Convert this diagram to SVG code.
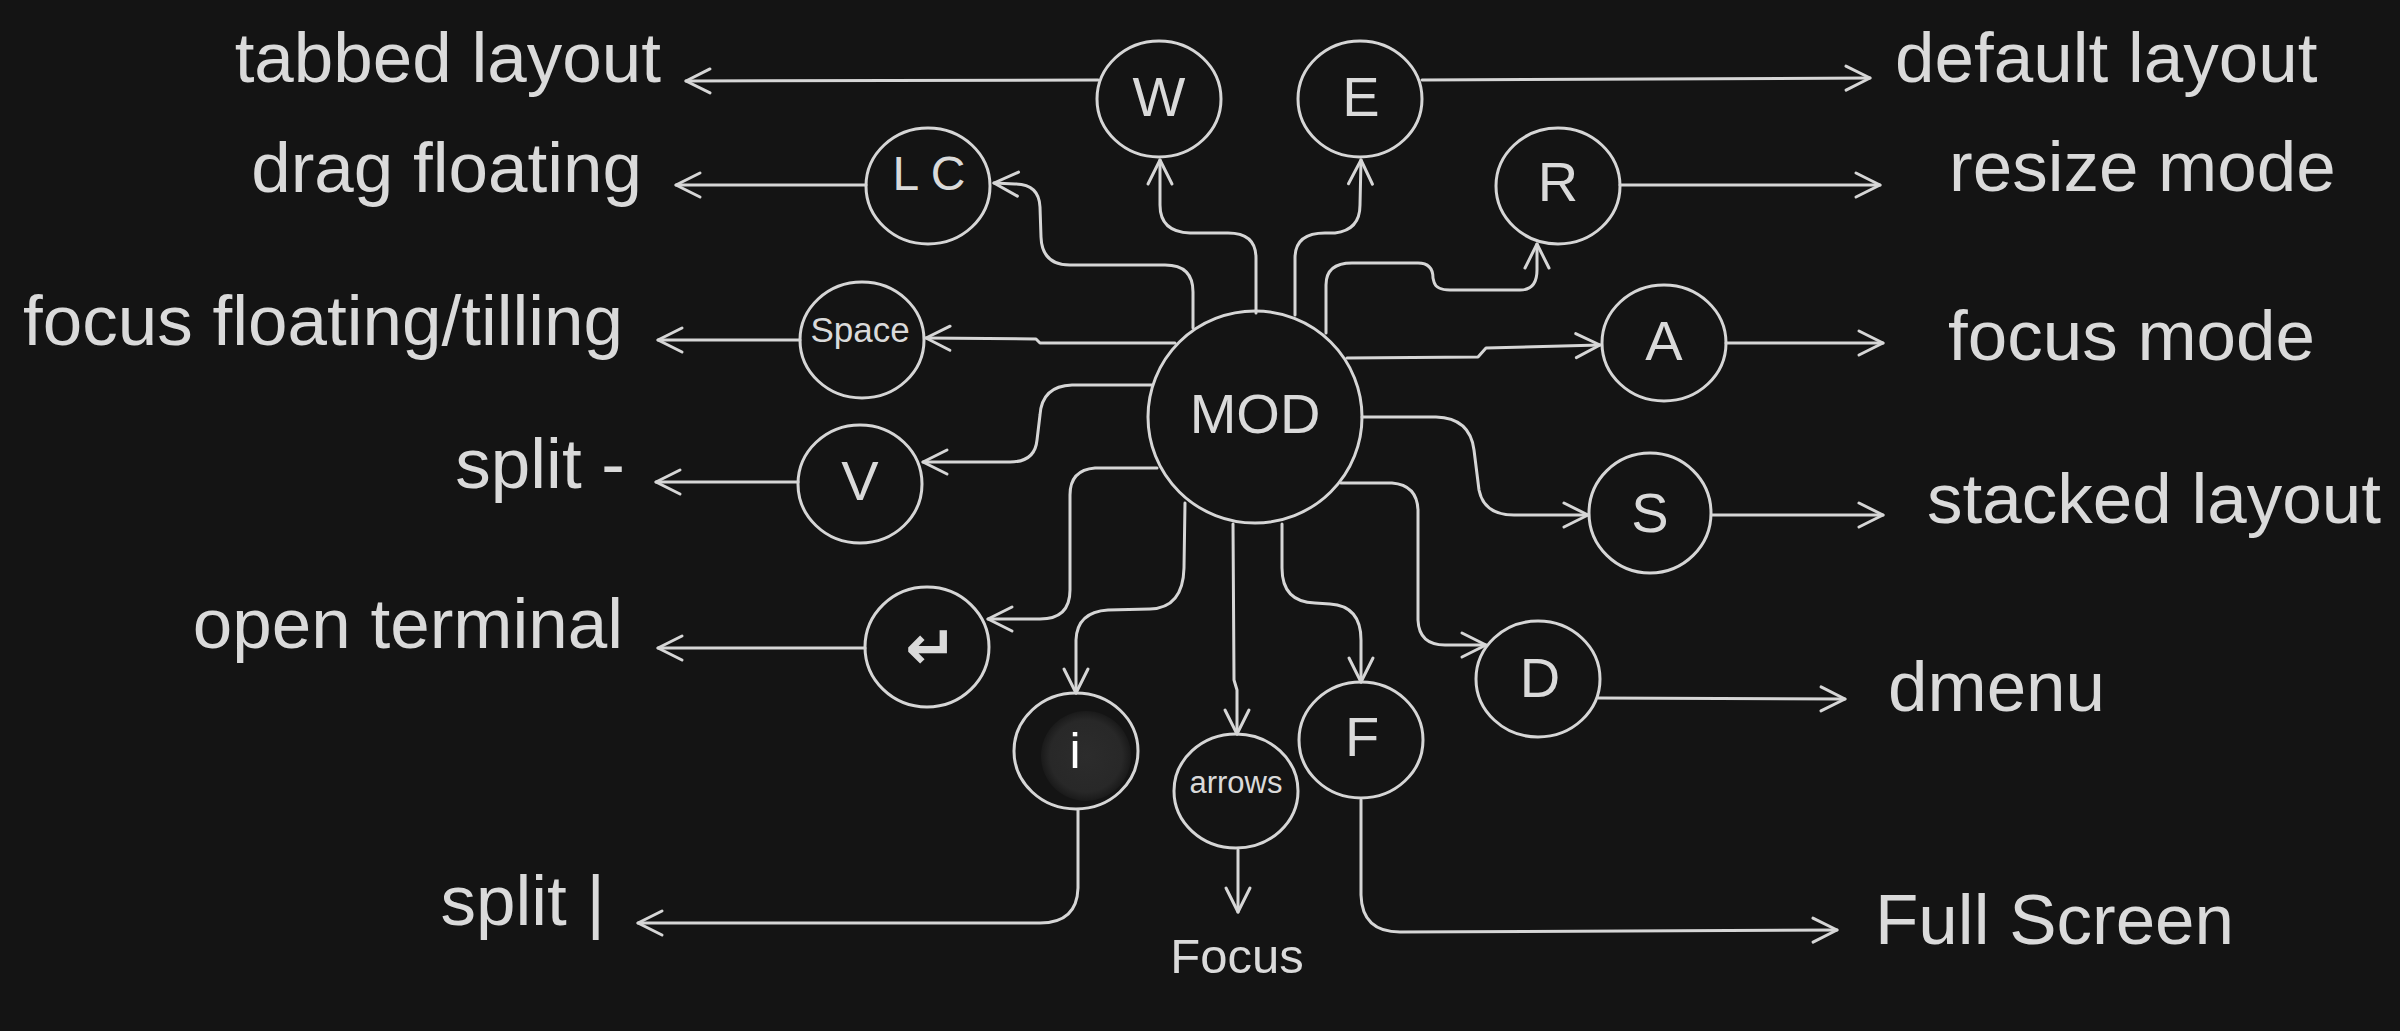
<svg xmlns="http://www.w3.org/2000/svg" width="2400" height="1031" viewBox="0 0 2400 1031">
<defs>
<marker id="ah" markerUnits="userSpaceOnUse" markerWidth="40" markerHeight="40" viewBox="-30 -20 40 40" refX="0" refY="0" orient="auto">
<path d="M -24 -12 L 0 0 L -24 12" fill="none" stroke="#d6d6d6" stroke-width="3" stroke-linecap="round" stroke-linejoin="round"/>
</marker>
<radialGradient id="ig" cx="0.5" cy="0.5" r="0.5">
<stop offset="0" stop-color="#2c2c2c"/>
<stop offset="0.8" stop-color="#282828"/>
<stop offset="1" stop-color="#1a1a1a"/>
</radialGradient>
<style>
.node ellipse{fill:none;stroke:#d6d6d6;stroke-width:3}
.lbl{font-family:"Liberation Sans",Arial,sans-serif;fill:#dadada;font-size:71px}
.nt{font-family:"Liberation Sans",Arial,sans-serif;fill:#dadada;font-size:56px;text-anchor:middle}
.conn path{fill:none;stroke:#d6d6d6;stroke-width:3;stroke-linecap:round;stroke-linejoin:round;marker-end:url(#ah)}
</style>
</defs>
<rect width="2400" height="1031" fill="#141414"/>

<g id="connectors" class="conn">
<path d="M 1098 80 L 686 81"/>
<path d="M 1422 80 L 1870 78"/>
<path d="M 866 185 L 676 185"/>
<path d="M 1193 328 L 1193 292 Q 1193 265 1165 265 L 1070 265 Q 1042 265 1041 237 L 1040 207 Q 1039 184 1015 184 L 994 183"/>
<path d="M 1256 313 L 1256 258 Q 1256 233 1228 233 L 1190 233 Q 1160 232 1160 205 L 1160 160"/>
<path d="M 1295 315 L 1295 258 Q 1295 233 1325 233 L 1335 233 Q 1360 230 1360 205 L 1361 160"/>
<path d="M 1326 333 L 1326 285 Q 1326 263 1352 263 L 1418 263 Q 1433 263 1433 278 L 1434 282 Q 1436 290 1450 290 L 1520 290 Q 1537 290 1537 270 L 1537 244"/>
<path d="M 1175 343 L 1040 343 L 1036 339 L 926 338"/>
<path d="M 800 340 L 658 340"/>
<path d="M 1347 358 L 1478 357 L 1486 348 L 1600 345"/>
<path d="M 1726 343 L 1883 343"/>
<path d="M 1152 385 L 1072 385 Q 1042 386 1040 415 L 1037 440 Q 1035 462 1010 462 L 923 462"/>
<path d="M 798 482 L 656 482"/>
<path d="M 1362 417 L 1436 417 Q 1470 418 1474 450 L 1479 490 Q 1484 515 1514 515 L 1588 515"/>
<path d="M 1712 515 L 1883 515"/>
<path d="M 1157 468 L 1095 468 Q 1070 470 1070 495 L 1070 590 Q 1070 619 1040 619 L 988 619"/>
<path d="M 865 648 L 658 648"/>
<path d="M 1185 503 L 1184 568 Q 1183 608 1150 609 L 1108 610 Q 1077 612 1076 640 L 1076 693"/>
<path d="M 1078 810 L 1078 888 Q 1077 923 1040 923 L 638 923"/>
<path d="M 1233 524 L 1234 680 L 1237 690 L 1237 734"/>
<path d="M 1238 850 L 1238 912"/>
<path d="M 1282 524 L 1282 568 Q 1282 602 1315 603 L 1330 604 Q 1361 606 1361 640 L 1361 682"/>
<path d="M 1361 800 L 1361 895 Q 1362 932 1400 932 L 1837 930"/>
<path d="M 1341 483 L 1392 483 Q 1417 485 1418 510 L 1418 620 Q 1419 645 1445 645 L 1486 645"/>
<path d="M 1598 698 L 1845 699"/>
<path d="M 1620 185 L 1880 185"/>
</g>

<g id="node-mod" class="node"><ellipse cx="1255" cy="417" rx="107" ry="106"/><text class="nt" x="1255" y="433">MOD</text></g>
<g id="node-w" class="node"><ellipse cx="1159" cy="99" rx="62" ry="58"/><text class="nt" x="1159" y="116">W</text></g>
<g id="node-e" class="node"><ellipse cx="1360" cy="99" rx="62" ry="58"/><text class="nt" x="1361" y="116">E</text></g>
<g id="node-lc" class="node"><ellipse cx="928" cy="186" rx="62" ry="58"/><text class="nt" x="929" y="190" style="font-size:48px">L C</text></g>
<g id="node-r" class="node"><ellipse cx="1558" cy="186" rx="62" ry="58"/><text class="nt" x="1558" y="201">R</text></g>
<g id="node-space" class="node"><ellipse cx="862" cy="340" rx="62" ry="58"/><text class="nt" x="860" y="342" style="font-size:35px">Space</text></g>
<g id="node-a" class="node"><ellipse cx="1664" cy="343" rx="62" ry="58"/><text class="nt" x="1664" y="360">A</text></g>
<g id="node-v" class="node"><ellipse cx="860" cy="484" rx="62" ry="59"/><text class="nt" x="860" y="500">V</text></g>
<g id="node-s" class="node"><ellipse cx="1650" cy="513" rx="61" ry="60"/><text class="nt" x="1650" y="532">S</text></g>
<g id="node-enter" class="node"><ellipse cx="927" cy="647" rx="62" ry="60"/><text class="nt" x="931" y="669" style="font-family:'DejaVu Sans',sans-serif;font-weight:bold;font-size:62px">↵</text></g>
<g id="node-d" class="node"><ellipse cx="1538" cy="679" rx="62" ry="58"/><text class="nt" x="1540" y="697">D</text></g>
<g id="node-f" class="node"><ellipse cx="1361" cy="740" rx="62" ry="58"/><text class="nt" x="1362" y="756">F</text></g>
<g id="node-i" class="node"><circle cx="1086" cy="756" r="45" fill="url(#ig)"/><ellipse cx="1076" cy="751" rx="62" ry="58"/><text class="nt" x="1075" y="768" style="fill:#ffffff;font-size:50px">i</text></g>
<g id="node-arrows" class="node"><ellipse cx="1236" cy="791" rx="62" ry="57"/><text class="nt" x="1236" y="793" style="font-size:31px">arrows</text></g>

<g id="labels">
<text class="lbl" x="661" y="82" text-anchor="end">tabbed layout</text>
<text class="lbl" x="642" y="192" text-anchor="end">drag floating</text>
<text class="lbl" x="623" y="345" text-anchor="end">focus floating/tilling</text>
<text class="lbl" x="625" y="488" text-anchor="end">split -</text>
<text class="lbl" x="623" y="648" text-anchor="end">open terminal</text>
<text class="lbl" x="605" y="925" text-anchor="end">split |</text>
<text class="lbl" x="1895" y="82">default layout</text>
<text class="lbl" x="1949" y="191">resize mode</text>
<text class="lbl" x="1948" y="360">focus mode</text>
<text class="lbl" x="1927" y="523">stacked layout</text>
<text class="lbl" x="1888" y="711">dmenu</text>
<text class="lbl" x="1875" y="944">Full Screen</text>
<text class="lbl" x="1237" y="973" text-anchor="middle" style="font-size:49px">Focus</text>
</g>
</svg>
